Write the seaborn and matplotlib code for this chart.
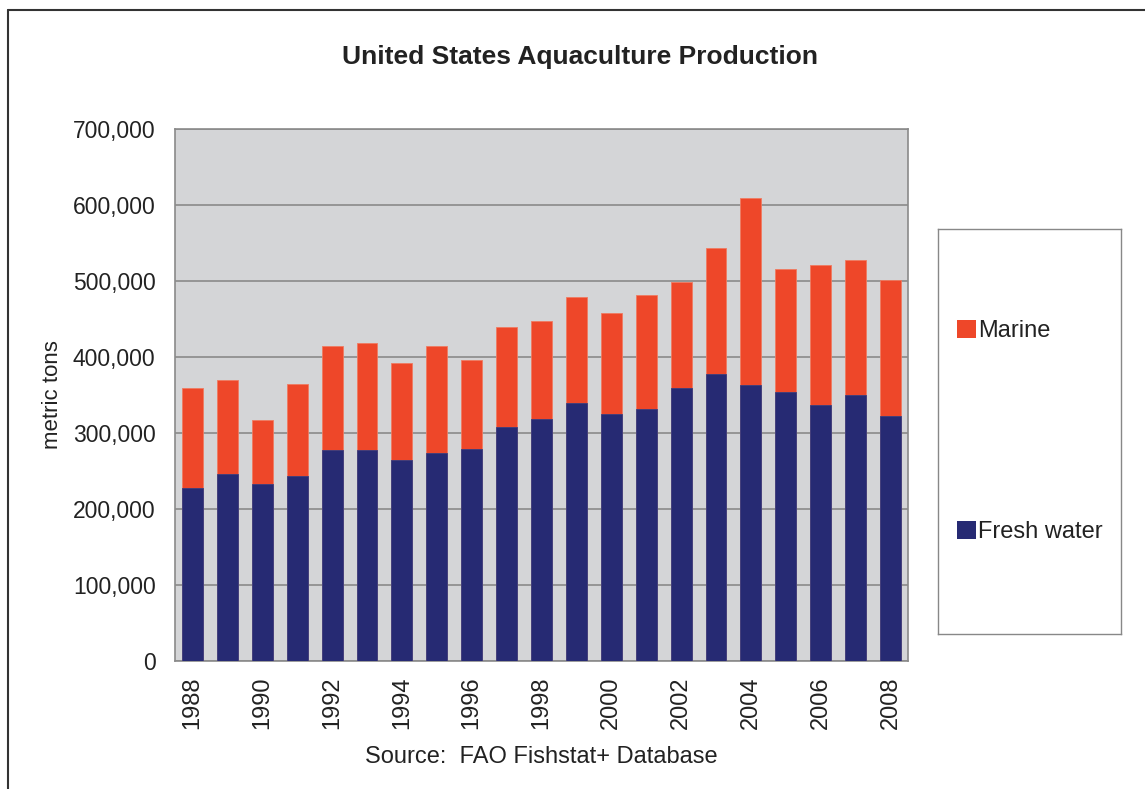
import matplotlib
matplotlib.use("Agg")
import matplotlib.pyplot as plt
import seaborn as sns
import numpy as np
import pandas as pd
from matplotlib.lines import Line2D
from matplotlib.patches import Patch
from matplotlib.ticker import FuncFormatter, FixedLocator

years = list(range(1988, 2009))
fresh_water = [228000, 246000, 233000, 244000, 277000, 277000, 265000, 274000, 279000, 308000,
               319000, 340000, 325000, 332000, 359000, 377000, 363000, 354000, 337000, 350000, 323000]
marine = [131000, 124000, 84000, 121000, 138000, 142000, 127000, 141000, 117000, 132000,
          128000, 139000, 133000, 149000, 140000, 167000, 246000, 162000, 184000, 177000, 178000]
year_labels = [str(y) if y % 2 == 0 else "" for y in years]

MARINE_C = "#EE4729"
FRESH_C = "#262A73"
BG = "#D4D5D7"
GRID = "#8A8A8A"
TXT = "#222222"

sns.set_style("white")
plt.rcParams["font.family"] = ["Liberation Sans", "DejaVu Sans"]

df = pd.DataFrame({"year": [str(y) for y in years],
                   "fresh": fresh_water,
                   "marine": marine})
df["total"] = df["fresh"] + df["marine"]

fig = plt.figure(figsize=(11.45, 7.89), dpi=100)
ax = fig.add_axes([175/1145, 1-661/789, 733/1145, 532/789])
ax.set_facecolor(BG)

sns.barplot(data=df, x="year", y="total", color=MARINE_C, saturation=1, width=0.6, ax=ax,
            zorder=3, linewidth=0.6, edgecolor="#F07A60")
sns.barplot(data=df, x="year", y="fresh", color=FRESH_C, saturation=1, width=0.6, ax=ax,
            zorder=4, linewidth=0.6, edgecolor="#3A3E80")

ax.set_xlim(-0.5, len(years) - 0.5)
ax.set_ylim(0, 700000)
ax.set_yticks(np.arange(0, 700001, 100000))
ax.yaxis.set_major_formatter(FuncFormatter(lambda v, p: f"{int(v):,}"))
ax.yaxis.grid(True, color=GRID, linewidth=1.2, zorder=0)
ax.set_axisbelow(True)

# x ticks: marks at category boundaries, labels at centers
ax.xaxis.set_major_locator(FixedLocator(np.arange(-0.5, len(years), 1.0)))
ax.xaxis.set_minor_locator(FixedLocator(np.arange(len(years))))
ax.set_xticklabels([""] * (len(years) + 1))
ax.set_xticklabels(year_labels, minor=True, rotation=90, fontsize=17, color=TXT)
ax.tick_params(axis="x", which="major", length=7, width=1, color=GRID, direction="out")
ax.tick_params(axis="x", which="minor", length=0, pad=11)
ax.tick_params(axis="y", length=8, width=1, color=GRID, direction="out", labelsize=16.5,
               labelcolor=TXT, pad=6)

ax.set_xlabel("Source:  FAO Fishstat+ Database", fontsize=17, color=TXT, labelpad=12)
ax.set_ylabel("metric tons", fontsize=16, color=TXT, labelpad=7)

for s in ["left", "right", "top", "bottom"]:
    ax.spines[s].set_visible(True)
    ax.spines[s].set_color(GRID)
    ax.spines[s].set_linewidth(1.2)

fig.text(580/1145, 1-57/789, "United States Aquaculture Production", ha="center", va="center",
         fontsize=19, fontweight="bold", color=TXT)

# legend box
lax = fig.add_axes([938/1145, 1-634/789, 183/1145, 405/789])
lax.set_xticks([]); lax.set_yticks([])
for s in lax.spines.values():
    s.set_color("#888888"); s.set_linewidth(1)
handles = [Patch(facecolor=MARINE_C, edgecolor="none", label="Marine"),
           Patch(facecolor=FRESH_C, edgecolor="none", label="Fresh water")]
lax.legend(handles=handles, loc="center left", bbox_to_anchor=(0.105, 0.5), frameon=False,
           fontsize=17, labelspacing=7.6, handlelength=0.8, handleheight=0.8,
           handletextpad=0.08, labelcolor=TXT, borderpad=0, borderaxespad=0)

# outer border
fig.add_artist(Line2D([8/1145, 1], [1-10/789, 1-10/789], color="#333333", linewidth=1.5,
                      transform=fig.transFigure))
fig.add_artist(Line2D([8/1145, 8/1145], [0, 1-10/789], color="#333333", linewidth=1.5,
                      transform=fig.transFigure))

fig.savefig("out.png", dpi=100)
